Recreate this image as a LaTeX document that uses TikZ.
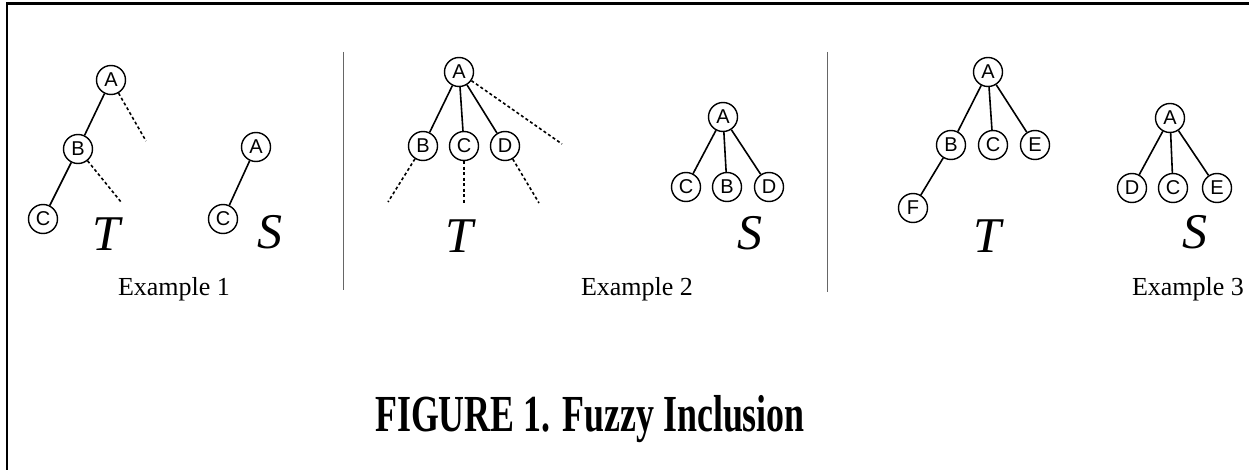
\documentclass[tikz,border=0pt]{standalone}
\usepackage{fontspec}
\setmainfont{Liberation Serif}
\newfontfamily\arialf{Liberation Sans}
\usepackage{graphicx}
\begin{document}
\begin{tikzpicture}[x=1pt,y=-1pt,
  nd/.style={draw, circle, line width=1.4pt, minimum size=29pt, inner sep=0pt, font=\arialf\fontsize{20}{20}\selectfont},
  edge/.style={line width=1.6pt},
  dsh/.style={line width=1.6pt, dash pattern=on 3pt off 2.5pt},
  sep/.style={line width=1pt, draw=black!60},
  bigit/.style={font=\fontsize{50}{50}\selectfont\itshape, anchor=base, inner sep=0pt},
  ex/.style={font=\fontsize{26}{26}\selectfont, anchor=base, inner sep=0pt},
  frame/.style={line width=2.2pt},
]
\useasboundingbox (0,0) rectangle (1249,470);
\fill[white] (0,0) rectangle (1249,470);
% frame
\coordinate (fbl) at (7,470);
\coordinate (ftl) at (7,3.5);
\coordinate (ftr) at (1249,3.5);
\draw[frame] (fbl) -- (ftl) -- (ftr);

% separators
\coordinate (s1a) at (343,52);
\coordinate (s1b) at (343,290);
\coordinate (s2a) at (827,52);
\coordinate (s2b) at (827,292);
\draw[sep] (s1a) -- (s1b);
\draw[sep] (s2a) -- (s2b);

% ---------- Example 1
\node[nd] (a1) at (111,80) {A};
\node[nd] (b1) at (78,149) {B};
\node[nd] (c1) at (43,219) {C};
\coordinate (a1d) at (146,141);
\coordinate (b1d) at (121,202);
\draw[edge] (a1) -- (b1);
\draw[edge] (b1) -- (c1);
\draw[dsh] (a1) -- (a1d);
\draw[dsh] (b1) -- (b1d);
\node[bigit] (t1) at (106,251) {T};
\node[nd] (sa1) at (256,147) {A};
\node[nd] (sc1) at (223,219) {C};
\draw[edge] (sa1) -- (sc1);
\node[bigit] (st1) at (270,248) {S};
\node[ex] (ex1) at (174,295) {Example 1};

% ---------- Example 2
\node[nd] (a2) at (459,72) {A};
\node[nd] (b2) at (423,146) {B};
\node[nd] (c2) at (464,146) {C};
\node[nd] (d2) at (505,146) {D};
\coordinate (a2d) at (562,144);
\coordinate (b2d) at (388,202);
\coordinate (c2d) at (464,203);
\coordinate (d2d) at (539,203);
\draw[edge] (a2) -- (b2);
\draw[edge] (a2) -- (c2);
\draw[edge] (a2) -- (d2);
\draw[dsh] (a2) -- (a2d);
\draw[dsh] (b2) -- (b2d);
\draw[dsh, line width=2.4pt] (c2) -- (c2d);
\draw[dsh] (d2) -- (d2d);
\node[bigit] (t2) at (459,252) {T};
\node[nd] (sa2) at (723,117) {A};
\node[nd] (sc2) at (686,187) {C};
\node[nd] (sb2) at (727,187) {B};
\node[nd] (sd2) at (769,187) {D};
\draw[edge] (sa2) -- (sc2);
\draw[edge] (sa2) -- (sb2);
\draw[edge] (sa2) -- (sd2);
\node[bigit] (st2) at (750,250) {S};
\node[ex] (ex2) at (637,295) {Example 2};

% ---------- Example 3
\node[nd] (a3) at (988,72) {A};
\node[nd] (b3) at (951,145) {B};
\node[nd] (c3) at (993,145) {C};
\node[nd] (e3) at (1035,145) {E};
\node[nd] (f3) at (913,208) {F};
\draw[edge] (a3) -- (b3);
\draw[edge] (a3) -- (c3);
\draw[edge] (a3) -- (e3);
\draw[edge] (b3) -- (f3);
\node[bigit] (t3) at (987,252) {T};
\node[nd] (sa3) at (1170,118) {A};
\node[nd] (sd3) at (1132,188) {D};
\node[nd] (sc3) at (1173,188) {C};
\node[nd] (se3) at (1217,188) {E};
\draw[edge] (sa3) -- (sd3);
\draw[edge] (sa3) -- (sc3);
\draw[edge] (sa3) -- (se3);
\node[bigit] (st3) at (1195,248) {S};
\node[ex] (ex3) at (1188,295) {Example 3};

% ---------- Title
\node[anchor=base, inner sep=0pt, font=\fontsize{52}{52}\selectfont\bfseries] (title) at (590,431) {\scalebox{0.69}[1]{FIGURE 1. Fuzzy Inclusion}};
\end{tikzpicture}
\end{document}
